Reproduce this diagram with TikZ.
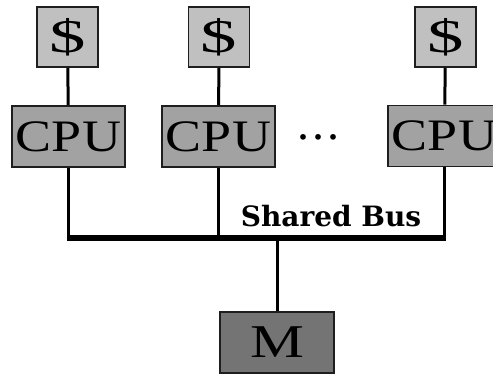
\documentclass[tikz,border=0pt]{standalone}
\usepackage{fontspec}
\usepackage{graphicx}
\newfontfamily\busfont{DejaVu Serif}
\newfontfamily\boxfont{Liberation Serif}
\newcommand\widetext[2]{\scalebox{#1}[1]{#2}}
\definecolor{cachegray}{RGB}{192,192,192}
\definecolor{cpugray}{RGB}{162,162,162}
\definecolor{memgray}{RGB}{116,116,116}
\definecolor{edge}{RGB}{30,30,30}
\tikzset{
  unit/.style={draw=edge, line width=1.6pt, inner sep=0pt, anchor=center},
  cachebox/.style={unit, fill=cachegray, minimum width=61pt, minimum height=60pt,
    font=\boxfont\fontsize{47}{47}\selectfont},
  cpubox/.style={unit, fill=cpugray, minimum width=113pt, minimum height=61pt,
    font=\boxfont\fontsize{45}{45}\selectfont},
  membox/.style={unit, fill=memgray, minimum width=114pt, minimum height=61pt,
    font=\boxfont\fontsize{47}{47}\selectfont},
  wire/.style={draw=black, line width=3pt},
  buswire/.style={draw=black, line width=5.5pt}
}
\begin{document}
\begin{tikzpicture}[x=1pt, y=-1pt]
  \useasboundingbox (0,0) rectangle (493,376);
  \clip (0,0) rectangle (493,376);

  % caches
  \node[cachebox] (c1) at (67.5,37) {\widetext{1.55}{\$}};
  \node[cachebox] (c2) at (219,37) {\widetext{1.55}{\$}};
  \node[cachebox] (c3) at (445.5,37) {\widetext{1.55}{\$}};

  % processors
  \node[cpubox] (p1) at (68.5,136.5) {\widetext{1.2}{CPU}};
  \node[cpubox] (p2) at (218.5,136.5) {\widetext{1.2}{CPU}};
  \node[cpubox] (p3) at (444.5,136) {\widetext{1.2}{CPU}};
  \node[anchor=base, inner sep=0pt, font=\boxfont\fontsize{48}{48}\selectfont]
    (dots) at (318.5,139.5) {.\hspace{3.4pt}.\hspace{3.4pt}.};

  % memory
  \node[membox] (m) at (277,342.5) {\widetext{1.29}{M}};

  % bus
  \coordinate (b1) at (p1.south |- 0,238);
  \coordinate (b2) at (p2.south |- 0,238);
  \coordinate (b3) at (p3.south |- 0,238);
  \coordinate (bm) at (m.north |- 0,238);
  \coordinate (busL) at ([xshift=-1.5pt]b1);
  \coordinate (busR) at ([xshift=1.5pt]b3);

  \draw[wire] (c1) -- (p1);
  \draw[wire] (c2) -- (p2);
  \draw[wire] (c3) -- (p3);
  \draw[wire] (p1.south) -- (b1);
  \draw[wire] (p2.south) -- (b2);
  \draw[wire] (p3.south) -- (b3);
  \draw[wire] (bm) -- (m.north);
  \draw[buswire] (busL) -- (busR);

  \node[anchor=base, inner sep=0pt, font=\busfont\bfseries\fontsize{28}{28}\selectfont]
    (label) at (331,226) {Shared Bus};
\end{tikzpicture}
\end{document}
